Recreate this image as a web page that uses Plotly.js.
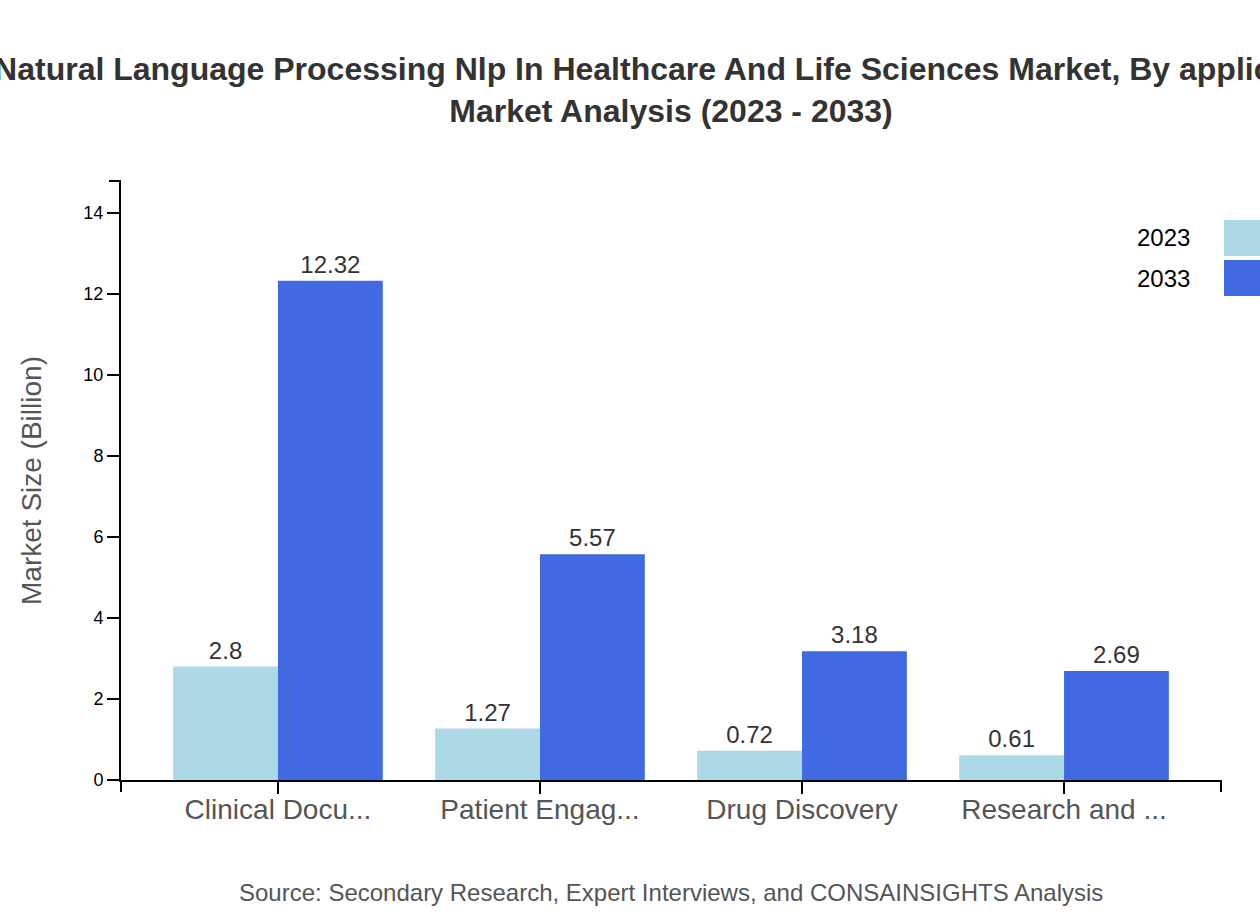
<!DOCTYPE html>
<html>
<head>
<meta charset="utf-8">
<script src="https://cdn.plot.ly/plotly-3.0.1.min.js"></script>
<style>html,body{margin:0;padding:0;background:#fff;overflow:hidden}#chart{width:1260px;height:920px}</style>
</head>
<body>
<div id="chart"></div>
<script>
const categories = ["Clinical Docu...", "Patient Engag...", "Drug Discovery", "Research and ..."];
const values2023 = [2.8, 1.27, 0.72, 0.61];
const values2033 = [12.32, 5.57, 3.18, 2.69];
const seriesNames = ["2023", "2033"];
const seriesColors = ["#ADD8E6", "#4169E1"];
const titleText = "Natural Language Processing Nlp In Healthcare And Life Sciences Market, By application<br>Market Analysis (2023 - 2033)";
const sourceText = "Source: Secondary Research, Expert Interviews, and CONSAINSIGHTS Analysis";

const FONT = "Liberation Sans, Arial, sans-serif";
const yMax = Math.max(...values2023, ...values2033) * 1.2;

function barTrace(name, vals, color) {
  return {
    type: "bar", name: name, x: categories, y: vals,
    marker: {color: color},
    text: vals.map(v => String(v)), textposition: "outside",
    textfont: {family: FONT, size: 24, color: "#333"},
    constraintext: "none", cliponaxis: false,
    showlegend: false, hoverinfo: "x+y"
  };
}

const data = [
  barTrace(seriesNames[0], values2023, seriesColors[0]),
  barTrace(seriesNames[1], values2033, seriesColors[1])
];

const W = 1100, H = 599;
const px = v => v / W, py = v => v / H;

const shapes = [
  // outer ticks at axis ends (D3-style domain path)
  {type: "line", xref: "paper", yref: "paper", x0: 0, x1: 0, y0: 0, y1: -py(12), line: {color: "#000", width: 2}},
  {type: "line", xref: "paper", yref: "paper", x0: 1, x1: 1, y0: 0, y1: -py(12), line: {color: "#000", width: 2}},
  {type: "line", xref: "paper", yref: "paper", x0: -px(12), x1: 0, y0: 1, y1: 1, line: {color: "#000", width: 2}},
  // legend swatches
  {type: "rect", xref: "paper", yref: "paper", x0: px(1103), x1: px(1160), y0: py(524), y1: py(560), line: {width: 0}, fillcolor: seriesColors[0]},
  {type: "rect", xref: "paper", yref: "paper", x0: px(1103), x1: px(1160), y0: py(484), y1: py(520), line: {width: 0}, fillcolor: seriesColors[1]}
];

const annotations = [
  {xref: "paper", yref: "paper", x: px(1071), y: py(542), xanchor: "right", yanchor: "middle", showarrow: false,
   text: seriesNames[0], font: {family: FONT, size: 24, color: "#000"}},
  {xref: "paper", yref: "paper", x: px(1071), y: py(502), xanchor: "right", yanchor: "middle", showarrow: false,
   text: seriesNames[1], font: {family: FONT, size: 24, color: "#000"}},
  {xref: "paper", yref: "paper", x: 0.5, y: -py(112), xanchor: "center", yanchor: "middle", showarrow: false,
   text: sourceText, font: {family: FONT, size: 24, color: "#555"}}
];

const layout = {
  width: 1260, height: 920,
  margin: {l: 121, r: 39, t: 181, b: 140, pad: 0},
  paper_bgcolor: "#fff", plot_bgcolor: "#fff",
  font: {family: FONT},
  title: {
    text: titleText, xref: "paper", x: 0.5, xanchor: "center",
    yref: "container", y: 1 - 80 / 920, yanchor: "middle",
    font: {family: FONT, size: 32, color: "#333", weight: "bold"}
  },
  barmode: "group", bargap: 0.2, bargroupgap: 0,
  xaxis: {
    type: "category", range: [-0.599, 3.599], fixedrange: true,
    showline: true, linecolor: "#000", linewidth: 2,
    ticks: "outside", ticklen: 12, tickwidth: 2, tickcolor: "#000",
    tickfont: {family: FONT, size: 28, color: "#555"},
    ticklabelstandoff: -9,
    showgrid: false, zeroline: false, automargin: false
  },
  yaxis: {
    range: [0, yMax], dtick: 2, tick0: 0, fixedrange: true,
    showline: true, linecolor: "#000", linewidth: 2,
    ticks: "outside", ticklen: 12, tickwidth: 2, tickcolor: "#000",
    tickfont: {family: FONT, size: 18, color: "#000"},
    showgrid: false, zeroline: false, automargin: false,
    title: {text: "Market Size (Billion)", standoff: 34, font: {family: FONT, size: 28, color: "#555"}}
  },
  shapes: shapes,
  annotations: annotations
};

Plotly.newPlot("chart", data, layout, {displayModeBar: false, staticPlot: true});
</script>
</body>
</html>
